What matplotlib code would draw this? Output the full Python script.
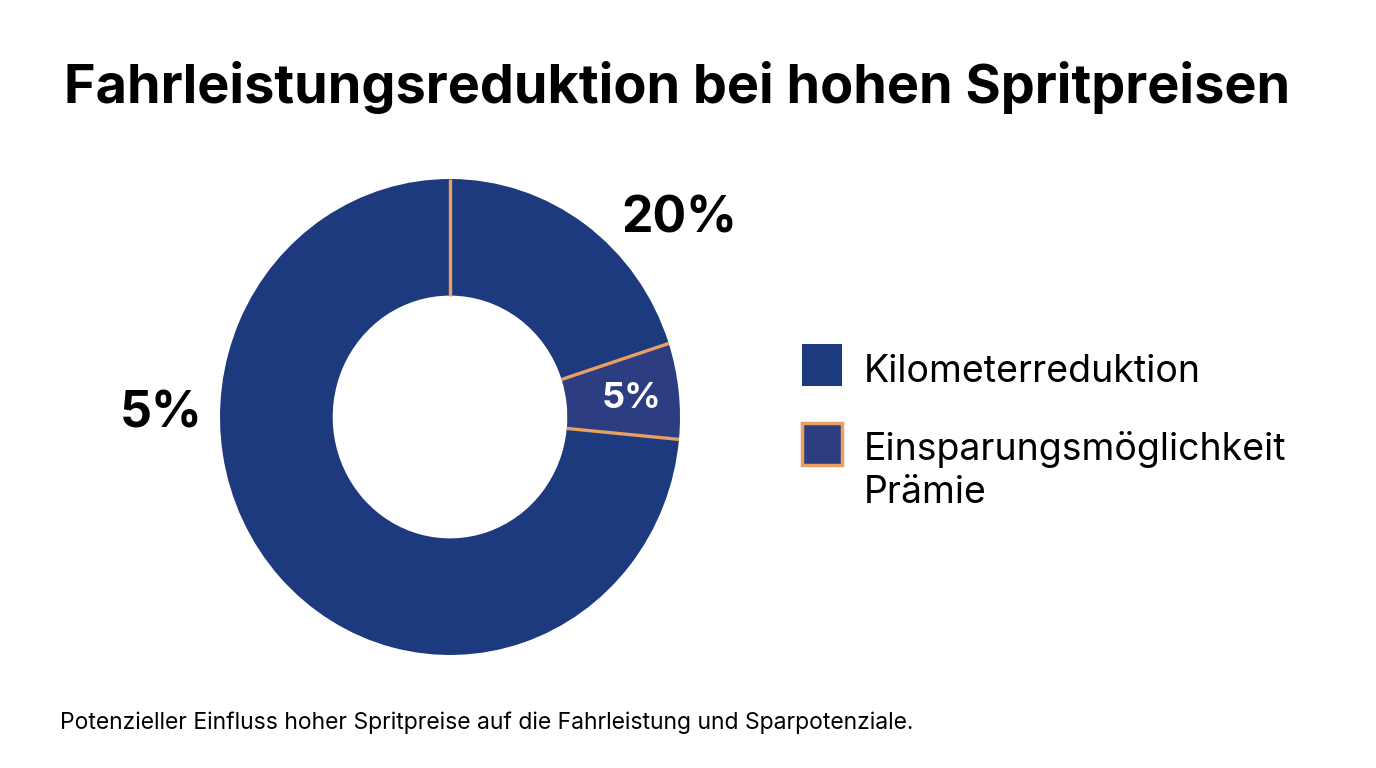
import matplotlib
matplotlib.use("Agg")
import matplotlib.pyplot as plt
import numpy as np
from matplotlib.patches import Rectangle

plt.rcParams['font.family'] = ['Inter', 'DejaVu Sans']

# ---- data ----
title = "Fahrleistungsreduktion bei hohen Spritpreisen"
caption = "Potenzieller Einfluss hoher Spritpreise auf die Fahrleistung und Sparpotenziale."
slice_values = [20, 6.5, 73.5]
slice_labels = ["20%", "5%", "5%"]
legend_labels = ["Kilometerreduktion", "Einsparungsmöglichkeit\nPrämie"]

BLUE = "#1e3a7e"
BLUE2 = "#2c3d82"
ORANGE = "#e9a062"
slice_colors = [BLUE, BLUE2, BLUE]

W, H = 1376, 768
fig = plt.figure(figsize=(W / 100, H / 100), dpi=100)
fig.patch.set_facecolor("white")

def fx(px):
    return px / W

def fy(py):
    return 1 - py / H

# donut axes: center (450,416), rx 230, ry 238
cx, cy, rx, ry = 450, 417, 230, 238
ax = fig.add_axes([fx(cx - rx), fy(cy + ry), 2 * rx / W, 2 * ry / H])
wedges, _ = ax.pie(slice_values, colors=slice_colors, startangle=90, counterclock=False,
                   radius=1.0, wedgeprops=dict(width=0.49, linewidth=0))
ax.set_aspect('auto')
ax.set_xlim(-1, 1)
ax.set_ylim(-1, 1)
ax.axis('off')

# orange separators at slice boundaries
total = sum(slice_values)
cum = np.concatenate([[0], np.cumsum(slice_values)[:-1]])
for c in cum:
    ang = np.deg2rad(90 - 360 * c / total)
    ax.plot([0.51 * np.cos(ang), 1.0 * np.cos(ang)], [0.51 * np.sin(ang), 1.0 * np.sin(ang)],
            color=ORANGE, lw=2.4, solid_capstyle='butt', zorder=3)

# labels
fig.text(fx(679), fy(219), slice_labels[0], fontsize=36, fontweight='bold', ha='center', va='center', color='black')
fig.text(fx(631), fy(399), slice_labels[1], fontsize=26, fontweight='bold', ha='center', va='center', color='white')
fig.text(fx(161), fy(414), slice_labels[2], fontsize=36, fontweight='bold', ha='center', va='center', color='black')

# title and caption
fig.text(fx(64), fy(103), title, fontsize=38.9, fontweight='bold', ha='left', va='baseline', color='black')
fig.text(fx(60), fy(729), caption, fontsize=16.5, ha='left', va='baseline', color='black')

# legend (manual)
leg_items = [(BLUE, 'none', 344), (BLUE2, ORANGE, 423)]
baselines = [[382], [460, 503]]
for (fc, ec, top), lab, bls in zip(leg_items, legend_labels, baselines):
    rect = Rectangle((fx(802), fy(top + 42)), 40 / W, 42 / H, transform=fig.transFigure,
                     facecolor=fc, edgecolor=ec, linewidth=2.5 if ec != 'none' else 0)
    fig.patches.append(rect)
    for line, bl in zip(lab.split("\n"), bls):
        fig.text(fx(864), fy(bl), line, fontsize=27, ha='left', va='baseline', color='black')

fig.savefig("out.png", dpi=100, facecolor="white")
